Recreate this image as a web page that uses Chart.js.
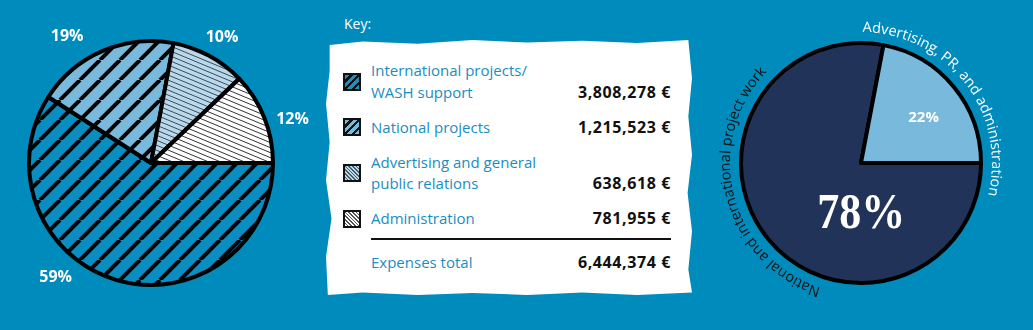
<!DOCTYPE html>
<html><head><meta charset="utf-8">
<script src="https://cdn.jsdelivr.net/npm/chart.js@4.4.0/dist/chart.umd.min.js"></script>
<style>
html,body{margin:0;padding:0;background:#008bbd;width:1033px;height:330px;overflow:hidden;font-family:'Open Sans',sans-serif;}
#left{position:absolute;left:0;top:0;width:320px;height:326px;}
#right{position:absolute;left:700px;top:0;width:333px;height:330px;}
#keyTitle{position:absolute;left:344px;top:14px;color:#fff;font-size:14px;line-height:20px;}
#box{position:absolute;left:326px;top:40px;width:366px;height:255px;background:#fff;box-sizing:border-box;padding-top:20px;
clip-path:polygon(1% 2%,10% 0.6%,25% 1.5%,40% 0%,55% 1%,70% 0.3%,85% 1.2%,99% 0%,100% 15%,99% 30%,100% 45%,98.8% 60%,100% 75%,99% 90%,100% 99%,85% 100%,70% 99%,55% 100%,40% 99.2%,25% 100%,10% 99%,0.5% 100%,0% 85%,1.5% 70%,0% 55%,1% 40%,0% 25%,1% 12%);}
.row{position:relative;margin:0 21px 13.5px 45px;line-height:21.5px;font-size:15px;color:#1a8dc1;}
.row .val{position:absolute;right:0;bottom:0;color:#111;font-weight:700;font-size:16px;letter-spacing:0.6px;}
.sw{position:absolute;left:-28px;top:50%;margin-top:-9px;width:14px;height:14px;border:2px solid #111;}
#rule{margin:-5px 21px 0 45px;height:2px;background:#111;}
.total{margin-top:12px;}
</style></head>
<body>
<div id="left"><canvas id="c1"></canvas></div>
<div id="keyTitle">Key:</div>
<div id="box"></div>
<div id="right"><canvas id="c2"></canvas></div>
<script>
// ---- data ----
const categories = ['International projects/ WASH support', 'National projects', 'Advertising and general public relations', 'Administration'];
const categoryLines = [['International projects/', 'WASH support'], ['National projects'], ['Advertising and general', 'public relations'], ['Administration']];
const expenses = [3808278, 1215523, 638618, 781955];
const totalLabel = 'Expenses total';
const rightCategories = ['National and international project work', 'Advertising, PR, and administration'];
const rightValues = [78, 22];

const fmt = v => v.toLocaleString('en-US') + ' €';
const total = expenses.reduce((a, b) => a + b, 0);

// ---- patterns ----
function thickStripe(bg) {
  const s = 20, c = document.createElement('canvas'); c.width = s; c.height = s;
  const x = c.getContext('2d'); x.fillStyle = bg; x.fillRect(0, 0, s, s);
  x.strokeStyle = '#000'; x.lineWidth = 4;
  for (let k = -1; k <= 1; k++) { x.beginPath(); x.moveTo(k * s, s); x.lineTo(k * s + s, 0); x.stroke(); }
  return x.createPattern(c, 'repeat');
}
function thinStripe(bg, col) {
  const w = 12, h = 5, c = document.createElement('canvas'); c.width = w; c.height = h;
  const x = c.getContext('2d'); x.fillStyle = bg; x.fillRect(0, 0, w, h);
  x.strokeStyle = col; x.lineWidth = 1;
  for (let k = -1; k <= 1; k++) { x.beginPath(); x.moveTo(0, k * h); x.lineTo(w, k * h + h); x.stroke(); }
  return x.createPattern(c, 'repeat');
}
const fills = [thickStripe('#0a8dc0'), thickStripe('#79b9db'), thinStripe('#b9d8eb', '#3a4a55'), thinStripe('#ffffff', '#333333')];
const swatchCss = [
  'repeating-linear-gradient(-45deg,#1a8fc0 0 3px,#111 3px 5.5px)',
  'repeating-linear-gradient(-45deg,#79b9db 0 3px,#111 3px 5.5px)',
  'repeating-linear-gradient(45deg,#b9d8eb 0 1.6px,#4a5a66 1.6px 2.6px)',
  'repeating-linear-gradient(45deg,#fff 0 1.6px,#555 1.6px 2.6px)'
];

// ---- key box ----
const box = document.getElementById('box');
categoryLines.forEach((lines, i) => {
  const r = document.createElement('div'); r.className = 'row';
  r.innerHTML = lines.map(l => '<div>' + l + '</div>').join('') +
    '<span class="val">' + fmt(expenses[i]) + '</span><div class="sw" style="background:' + swatchCss[i] + '"></div>';
  box.appendChild(r);
});
const rule = document.createElement('div'); rule.id = 'rule'; box.appendChild(rule);
const tr = document.createElement('div'); tr.className = 'row total';
tr.innerHTML = '<div>' + totalLabel + '</div><span class="val">' + fmt(total) + '</span>';
box.appendChild(tr);

// ---- plugins ----
const pctLabels = {
  id: 'pctLabels',
  afterDatasetsDraw(chart, args, opts) {
    const ctx = chart.ctx, meta = chart.getDatasetMeta(0);
    const data = chart.data.datasets[0].data, sum = data.reduce((a, b) => a + b, 0);
    meta.data.forEach((arc, i) => {
      const a = arc.startAngle + opts.frac[i] * (arc.endAngle - arc.startAngle);
      const d = opts.dist[i];
      ctx.save();
      ctx.font = opts.fonts[i]; ctx.fillStyle = '#fff'; ctx.textAlign = 'center'; ctx.textBaseline = 'middle';
      ctx.translate(arc.x + d * Math.cos(a), arc.y + d * Math.sin(a));
      ctx.scale(opts.scaleX ? opts.scaleX[i] : 1, 1);
      ctx.fillText(Math.round(data[i] / sum * 100) + '%', 0, 0);
      ctx.restore();
    });
  }
};
const arcText = {
  id: 'arcText',
  afterDatasetsDraw(chart, args, opts) {
    if (!opts.items) return;
    const ctx = chart.ctx, arc0 = chart.getDatasetMeta(0).data[0];
    const cx = arc0.x, cy = arc0.y;
    opts.items.forEach((it, i) => {
      const text = chart.data.labels[i];
      ctx.save(); ctx.font = opts.font; ctx.fillStyle = it.color; ctx.textAlign = 'left'; ctx.textBaseline = 'alphabetic';
      const r = opts.radius, w = ctx.measureText(text).width;
      let a = it.center * Math.PI / 180 - w / r / 2;
      for (const ch of text) {
        const cw = ctx.measureText(ch).width;
        ctx.save(); ctx.translate(cx + r * Math.cos(a), cy + r * Math.sin(a)); ctx.rotate(a + Math.PI / 2);
        ctx.fillText(ch, 0, 0); ctx.restore();
        a += cw / r;
      }
      ctx.restore();
    });
  }
};

// ---- left pie ----
new Chart(document.getElementById('c1'), {
  type: 'pie',
  data: { labels: categories, datasets: [{ data: expenses, backgroundColor: fills, borderColor: '#000', borderWidth: 4, borderJoinStyle: 'round' }] },
  options: {
    responsive: true, maintainAspectRatio: false, animation: false, rotation: 90,
    layout: { padding: { left: 27, right: 45, top: 39, bottom: 39 } },
    plugins: { legend: { display: false }, tooltip: { enabled: false },
      pctLabels: { frac: [0.61, 0.35, 0.53, 0.61], dist: [149, 152, 144, 148], fonts: ['bold 16px "Open Sans"', 'bold 16px "Open Sans"', 'bold 16px "Open Sans"', 'bold 16px "Open Sans"'] } }
  },
  plugins: [pctLabels]
});

// ---- right pie ----
new Chart(document.getElementById('c2'), {
  type: 'pie',
  data: { labels: rightCategories, datasets: [{ data: rightValues, backgroundColor: ['#223359', '#79b9dc'], borderColor: '#000', borderWidth: 4, borderJoinStyle: 'round' }] },
  options: {
    responsive: true, maintainAspectRatio: false, animation: false, rotation: 90,
    layout: { padding: { left: 39, right: 50, top: 41, bottom: 45 } },
    plugins: { legend: { display: false }, tooltip: { enabled: false },
      pctLabels: { frac: [0.32, 0.55], dist: [52, 77], scaleX: [0.88, 1], fonts: ['bold 50px "Liberation Serif"', 'bold 15px "Open Sans"'] },
      arcText: { radius: 131, font: '14.5px "Open Sans"', items: [{ center: 166, color: '#111' }, { center: -37.5, color: '#fff' }] } }
  },
  plugins: [pctLabels, arcText]
});
</script>
</body></html>
